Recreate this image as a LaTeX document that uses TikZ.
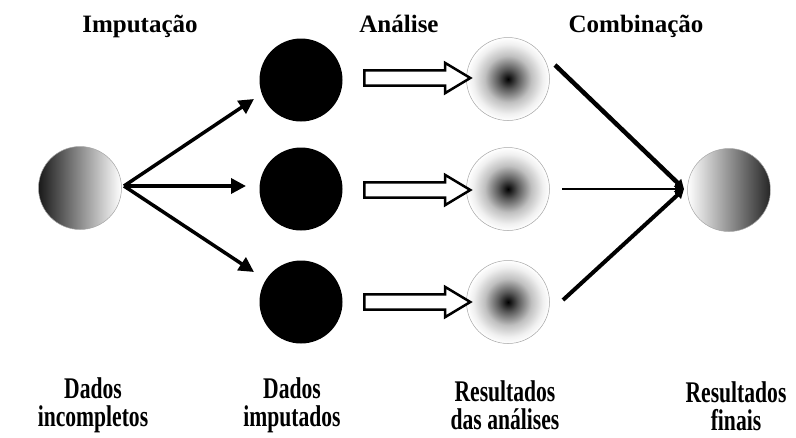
\documentclass[tikz,border=0pt]{standalone}
\usepackage{fontspec}
\setmainfont{Liberation Serif}
\newfontfamily\narrowserif[FakeStretch=0.72]{Liberation Serif}
\usetikzlibrary{arrows.meta,shapes.arrows}

\pgfdeclareradialshading{mancha}{\pgfpoint{0bp}{0bp}}{color(0bp)=(black); color(6bp)=(black!65); color(14bp)=(black!25); color(21bp)=(black!6); color(25bp)=(white); color(50bp)=(white)}

\tikzset{
	ball/.style={circle, minimum size=83pt, inner sep=0pt},
	dado/.style={ball, fill=black},
	miss/.style={ball, draw=gray!70, line width=0.5pt, shading=axis},
	blur/.style={ball, draw=gray!70, line width=0.5pt, shading=mancha},
	oco/.style={single arrow, draw=black, fill=white, line width=2.5pt,
		inner xsep=0pt, inner ysep=6.3pt, minimum height=106pt,
		single arrow head extend=7.5pt, single arrow tip angle=62,
		single arrow head indent=0pt},
	seta/.style={line width=3.5pt, -{Triangle[length=15pt,width=15pt]}},
	junta/.style={-{Triangle[length=9pt,width=10pt]}},
	titulo/.style={anchor=base, font=\bfseries\fontsize{25}{30}\selectfont},
	rotulo/.style={align=center, font=\narrowserif\bfseries\fontsize{30}{28}\selectfont}
}

\begin{document}
\begin{tikzpicture}[x=1pt, y=-1pt]
		\useasboundingbox (0,0) rectangle (796,437);

		% dados incompletos
		\node[miss, left color=black!90, right color=white] (inc) at (80,188) {};
		\coordinate (split) at (124,186);

		% imputacoes
		\node[dado] (imp1) at (301,80) {};
		\node[dado] (imp2) at (301,189) {};
		\node[dado] (imp3) at (301,302) {};
		\coordinate (p1) at (254,99);
		\coordinate (p2) at (246,186);
		\coordinate (p3) at (254,272);
		\draw[seta] (split) -- (p1);
		\draw[seta] (split) -- (p2);
		\draw[seta] (split) -- (p3);

		% analises
		\node[blur] (an1) at (508,79) {};
		\node[blur] (an2) at (508,189) {};
		\node[blur] (an3) at (508,302) {};
		\node[oco] (oc1) at (411,78) {};
		\node[oco] (oc2) at (411,190) {};
		\node[oco] (oc3) at (411,302) {};

		% combinacao
		\node[miss, left color=white, right color=black!85] (fin) at (729,190) {};
		\coordinate (pool) at (684,189);
		\coordinate (c1) at (555,65);
		\coordinate (c2) at (562,189);
		\coordinate (c3) at (563,300);
		\draw[junta, line width=4.5pt] (c1) -- (pool);
		\draw[junta, line width=1.8pt] (c2) -- (pool);
		\draw[junta, line width=4pt] (c3) -- (pool);

		% textos
		\node[titulo] (tImp) at (140,32) {Imputação};
		\node[titulo] (tAna) at (399,32) {Análise};
		\node[titulo] (tCom) at (636,32) {Combinação};

		\node[rotulo] (lInc) at (93,405) {Dados\\incompletos};
		\node[rotulo] (lImp) at (292,405) {Dados\\imputados};
		\node[rotulo] (lAna) at (505,405) {Resultados\\das análises};
		\node[rotulo] (lFin) at (736,406) {Resultados\\finais};
	\end{tikzpicture}
\end{document}
